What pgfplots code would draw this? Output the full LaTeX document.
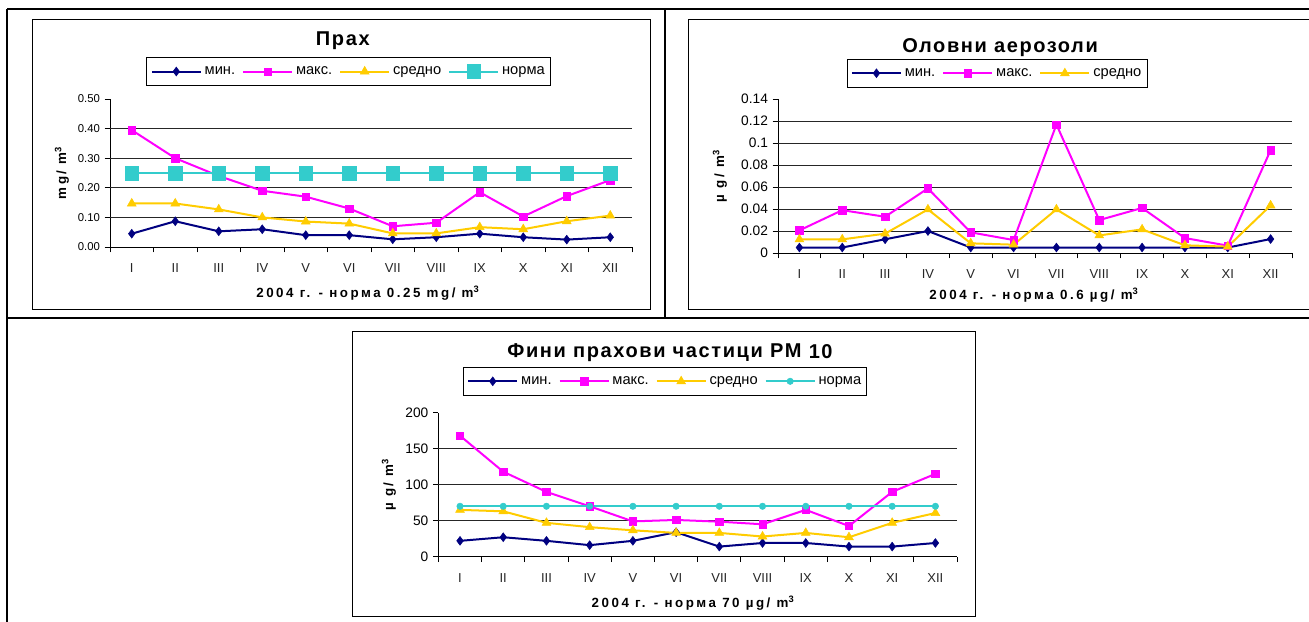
\documentclass[border=0pt]{standalone}
\usepackage{fontspec}
\setmainfont{Liberation Sans}
\newfontfamily\ttlfont[LetterSpace=8]{Liberation Sans}
\newfontfamily\lblfont[LetterSpace=19]{Liberation Sans}
\usepackage{pgfplots}
\usepackage{pgfplotstable}
\pgfplotsset{compat=1.18}
\definecolor{navyc}{HTML}{000080}
\definecolor{magc}{HTML}{FF00FF}
\definecolor{goldc}{HTML}{FFCC00}
\definecolor{turqc}{HTML}{33CCCC}

\pgfplotstableread{
m mn mx av no
1 0.045 0.395 0.147 0.25
2 0.087 0.300 0.147 0.25
3 0.053 0.240 0.127 0.25
4 0.060 0.190 0.100 0.25
5 0.040 0.170 0.086 0.25
6 0.040 0.130 0.079 0.25
7 0.026 0.070 0.046 0.25
8 0.033 0.082 0.046 0.25
9 0.045 0.185 0.067 0.25
10 0.033 0.103 0.060 0.25
11 0.025 0.172 0.087 0.25
12 0.033 0.226 0.106 0.25
}\tabA

\pgfplotstableread{
m mn mx av
1 0.0050 0.0206 0.0124
2 0.0050 0.0390 0.0124
3 0.0125 0.0330 0.0176
4 0.0200 0.0588 0.0397
5 0.0050 0.0188 0.0088
6 0.0050 0.0118 0.0076
7 0.0050 0.1170 0.0397
8 0.0050 0.0300 0.0160
9 0.0050 0.0410 0.0215
10 0.0050 0.0136 0.0070
11 0.0050 0.0067 0.0058
12 0.0127 0.0936 0.0433
}\tabB

\pgfplotstableread{
m mn mx av no
1 22 168 65 70
2 27 118 63 70
3 22 90 47 70
4 16 70 41 70
5 22 49 36.6 70
6 34 51 33 70
7 14 48.6 33 70
8 19 45 28 70
9 19 65 33 70
10 14 42.6 27 70
11 14 90 47 70
12 19 115 60.6 70
}\tabC

\pgfplotsset{
 exc/.style={
   scale only axis, clip=false,
   axis x line*=bottom, axis y line*=left,
   axis line style={black, line width=0.75pt},
   xmin=0.5, xmax=12.5, ymin=0,
   xtick={1,...,12},
   xticklabels={I,II,III,IV,V,VI,VII,VIII,IX,X,XI,XII},
   minor xtick={0.5,1.5,...,12.5},
   major x tick style={draw=none},
   minor x tick style={black, line width=0.75pt},
   ytick style={black, line width=0.75pt},
   tick align=outside,
   major tick length=4pt, minor tick length=4pt,
   xticklabel style={font=\fontsize{9.75}{11}\selectfont, text=black!85, yshift=-5pt},
   ymajorgrids=false,
   major grid style={black!85, line width=0.6pt},
   extra y tick style={grid=major, major tick length=0pt},
   extra y tick labels={},
   legend columns=-1,
   legend cell align=left,
   legend image code/.code={\draw[mark repeat=2,mark phase=2,##1] plot coordinates {(0pt,0pt)(18.4pt,0pt)(36.75pt,0pt)};},
   legend style={draw=black, line width=0.6pt, fill=white,
       font=\fontsize{11}{13}\selectfont, inner xsep=3pt, inner ysep=5.5pt,
       nodes={inner sep=1.2pt},
       /tikz/every odd column/.append style={column sep=1pt},
       /tikz/every even column/.append style={column sep=4pt}},
   xlabel style={font=\fontsize{10}{12}\lblfont\bfseries, anchor=center},
   ylabel style={font=\fontsize{10}{12}\lblfont\bfseries, anchor=center},
   every axis title/.style={at={(0.5,1)}, anchor=center, font=\fontsize{15}{18}\ttlfont\bfseries},
 },
 smn/.style={navyc, line width=1.5pt, mark=diamond*, mark size=3.3pt, mark options={solid, line width=0.4pt, fill=navyc, draw=navyc}},
 smx/.style={magc, line width=1.5pt, mark=square*, mark size=2.8pt, mark options={solid, line width=0.4pt, fill=magc, draw=magc}},
 sav/.style={goldc, line width=1.5pt, mark=triangle*, mark size=3.8pt, mark options={solid, line width=0.4pt, fill=goldc, draw=goldc}},
}

\begin{document}
\begin{tikzpicture}
\path[use as bounding box, fill=white] (0pt,0pt) rectangle (981.75pt,-465.75pt);
\begin{scope}[x=0.75pt,y=-0.75pt]
  \draw[line width=1.5pt] (7,9) -- (1312,9);
  \draw[line width=1.5pt] (7,9) -- (7,625);
  \draw[line width=1.5pt] (665,9) -- (665,318);
  \draw[line width=1.5pt] (7,318) -- (1312,318);
  \draw[line width=0.75pt] (32,19) rectangle (650,309);
  \draw[line width=0.75pt] (688,19) rectangle (1320,309);
  \draw[line width=0.75pt] (352,331) rectangle (975,616);
\end{scope}

% Chart 1
\begin{axis}[exc,
  at={(82.5pt,-185.25pt)}, anchor=south west,
  width=391.5pt, height=111pt,
  ymax=0.5,
  ytick={0,0.1,0.2,0.3,0.4,0.5},
  yticklabels={0.00,0.10,0.20,0.30,0.40,0.50},
  yticklabel style={font=\fontsize{8.5}{10}\selectfont},
  extra y ticks={0.1,0.2,0.3,0.4},
  title={Прах},
  title style={at={(axis description cs:0.446,1.395)}},
  xlabel={2004 г. - норма 0.25 mg/ m\textsuperscript{3}},
  xlabel style={at={(axis description cs:0.494,-0.311)}},
  ylabel={mg/ m\textsuperscript{3}},
  ylabel style={at={(axis description cs:-0.092,0.5)}},
  legend style={at={(0.457,1.284)}, anchor=north},
]
\addplot[smn] table[x=m,y=mn] {\tabA};
\addplot[smx] table[x=m,y=mx] {\tabA};
\addplot[sav] table[x=m,y=av] {\tabA};
\addplot[turqc, line width=1.5pt, mark=square*, mark size=5.1pt, mark options={solid, line width=0.4pt, fill=turqc, draw=turqc}] table[x=m,y=no] {\tabA};
\legend{мин.,макс.,средно,норма}
\end{axis}

% Chart 2
\begin{axis}[exc,
  at={(583.5pt,-189.75pt)}, anchor=south west,
  width=385.5pt, height=115.3pt,
  ymax=0.14,
  ytick={0,0.02,0.04,0.06,0.08,0.1,0.12,0.14},
  yticklabels={0,0.02,0.04,0.06,0.08,0.1,0.12,0.14},
  yticklabel style={font=\fontsize{10.3}{12}\selectfont},
  extra y ticks={0.02,0.04,0.06,0.08,0.1,0.12},
  title={Оловни аерозоли},
  title style={at={(axis description cs:0.432,1.337)}},
  xlabel={2004 г. - норма 0.6 µg/ m\textsuperscript{3}},
  xlabel style={at={(axis description cs:0.498,-0.273)}},
  ylabel={µ g/ m\textsuperscript{3}},
  ylabel style={at={(axis description cs:-0.113,0.5)}},
  legend style={at={(0.426,1.262)}, anchor=north},
]
\addplot[smn] table[x=m,y=mn] {\tabB};
\addplot[smx] table[x=m,y=mx] {\tabB};
\addplot[sav] table[x=m,y=av] {\tabB};
\legend{мин.,макс.,средно}
\end{axis}

% Chart 3
\begin{axis}[exc,
  at={(328.8pt,-417.5pt)}, anchor=south west,
  width=388.95pt, height=108pt,
  ymax=200,
  ytick={0,50,100,150,200},
  yticklabels={0,50,100,150,200},
  yticklabel style={font=\fontsize{10.3}{12}\selectfont},
  extra y ticks={50,100,150},
  title={Фини прахови частици PM \raisebox{-1.2pt}{10}},
  title style={at={(axis description cs:0.4466,1.42)}},
  xlabel={2004 г. - норма 70 µg/ m\textsuperscript{3}},
  xlabel style={at={(axis description cs:0.491,-0.3215)}},
  ylabel={µ g/ m\textsuperscript{3}},
  ylabel style={at={(axis description cs:-0.0953,0.5)}},
  legend style={at={(0.437,1.317)}, anchor=north},
]
\addplot[smn] table[x=m,y=mn] {\tabC};
\addplot[smx] table[x=m,y=mx] {\tabC};
\addplot[sav] table[x=m,y=av] {\tabC};
\addplot[turqc, line width=1.5pt, mark=*, mark size=2.4pt, mark options={solid, line width=0.4pt, fill=turqc, draw=turqc}] table[x=m,y=no] {\tabC};
\legend{мин.,макс.,средно,норма}
\end{axis}
\end{tikzpicture}
\end{document}
